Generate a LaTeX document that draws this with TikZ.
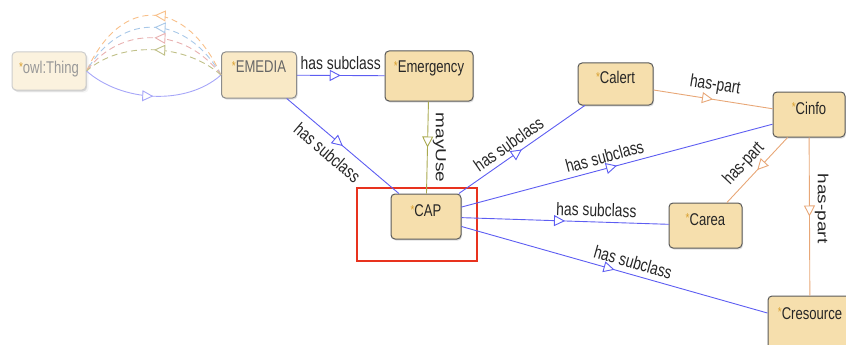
\documentclass[tikz,border=0pt]{standalone}
\usepackage{fontspec}
\usepackage{graphicx}
\setmainfont[FakeStretch=0.77]{Liberation Sans}
\newfontfamily\vertfont{Liberation Sans}
\usepackage{xcolor}
\usepackage{tikz}
\usetikzlibrary{arrows.meta, decorations.markings, shadows}

\definecolor{clsfill}{HTML}{F6DFAD}
\definecolor{clsdraw}{HTML}{5A5A5A}
\definecolor{subcl}{HTML}{5D5DF2}
\definecolor{haspart}{HTML}{E8A777}
\definecolor{mayuse}{HTML}{A9A94F}
\definecolor{starcol}{HTML}{D9A030}
\definecolor{capred}{HTML}{E8321E}
\definecolor{dorange}{HTML}{F8C08A}
\definecolor{dblue}{HTML}{A8C8E8}
\definecolor{dpink}{HTML}{E8B0B0}
\definecolor{dolive}{HTML}{C0C088}

\newcommand{\cls}[1]{\textcolor{starcol}{\raisebox{2.5pt}{\fontsize{13}{13}\selectfont *}}#1}
\newcommand{\vlbl}[1]{\scalebox{1}[0.77]{\vertfont\fontsize{19}{19}\selectfont #1}}

\tikzstyle{classbox} = [rectangle, rounded corners=4pt, draw=clsdraw, fill=clsfill, line width=1pt, text height=12pt, text depth=12pt, font=\fontsize{17}{17}\selectfont, text=black!85, drop shadow={shadow xshift=1pt, shadow yshift=-1.5pt, opacity=0.25}]
\tikzstyle{semi} = [classbox, draw=black!45, fill=clsfill!70, text=black!60]
\tikzstyle{faded} = [classbox, draw=black!20, fill=clsfill!40, text=black!40, drop shadow={opacity=0.08}]
\tikzstyle{midtri} = [decoration={markings, mark=at position 0.5 with {\arrow{Triangle[length=11pt, width=11pt, fill=white]}}}, postaction={decorate}]
\tikzstyle{sub} = [color=subcl, line width=0.9pt, midtri]
\tikzstyle{part} = [color=haspart, line width=0.9pt, midtri]
\tikzstyle{uses} = [color=mayuse, line width=0.9pt, midtri]
\tikzstyle{thingsub} = [color=subcl!55, line width=0.9pt, midtri]
\tikzstyle{owlcurve} = [line width=0.9pt, dash pattern=on 6pt off 4pt, midtri]
\tikzstyle{lbl} = [font=\fontsize{18}{18}\selectfont, text=black!85, inner sep=5pt]
\tikzstyle{vert} = [text=black!85, rotate=-90, anchor=south, inner sep=5pt]
\tikzstyle{redframe} = [rectangle, draw=capred, line width=1.4pt, minimum width=120pt, minimum height=73pt]

\begin{document}
\begin{tikzpicture}[x=1pt, y=-1pt]
\useasboundingbox (0,0) rectangle (846,345);

\node (thing) [faded, minimum width=74pt, minimum height=38pt, text depth=6pt] at (49,71) {\cls{owl:Thing}};
\node (emedia) [semi, minimum width=75pt, minimum height=46pt, text depth=16pt] at (259,75) {\cls{EMEDIA}};
\node (emergency) [classbox, minimum width=88pt, minimum height=50pt, text depth=18pt] at (429,76) {\cls{Emergency}};
\node (cap) [classbox, minimum width=70pt, minimum height=45pt] at (426,216.5) {\cls{CAP}};
\node (capframe) [redframe] at (417,224.5) {};
\node (calert) [classbox, minimum width=75pt, minimum height=42pt] at (615.5,84) {\cls{Calert}};
\node (cinfo) [classbox, minimum width=72pt, minimum height=45pt, text depth=13pt] at (809,114.5) {\cls{Cinfo}};
\node (carea) [classbox, minimum width=73pt, minimum height=45pt, text depth=13pt] at (705.5,225.5) {\cls{Carea}};
\node (cresource) [classbox, minimum width=84pt, minimum height=58pt, text depth=24pt] at (810,325) {\cls{Cresource}};

\draw [thingsub] (thing.east) .. controls +(35,31) and +(-35,31) .. (emedia.west);
\draw [owlcurve, color=dorange] (emedia.west) .. controls +(-35,-77) and +(35,-77) .. (thing.east);
\draw [owlcurve, color=dblue] (emedia.west) .. controls +(-35,-61) and +(35,-61) .. (thing.east);
\draw [owlcurve, color=dpink] (emedia.west) .. controls +(-35,-47) and +(35,-47) .. (thing.east);
\draw [owlcurve, color=dolive] (emedia.west) .. controls +(-35,-31) and +(35,-31) .. (thing.east);

\draw [sub] (emedia) -- node[lbl, above] {has subclass} (emergency);
\draw [sub] (emedia) -- node[lbl, sloped, below, pos=0.45, inner sep=8pt] {has subclass} (cap);
\draw [uses] (emergency) -- node[vert] {\vlbl{mayUse}} (cap);
\draw [sub] (cap) -- node[lbl, sloped, above, pos=0.45] {has subclass} (calert);
\draw [sub] (cap) -- node[lbl, sloped, above, pos=0.47] {has subclass} (cinfo);
\draw [sub] (cap) -- node[lbl, sloped, above, pos=0.65] {has subclass} (carea);
\draw [sub] (cap) -- node[lbl, sloped, above, pos=0.55] {has subclass} (cresource);
\draw [part] (calert) -- node[lbl, sloped, above] {has-part} (cinfo);
\draw [part] (cinfo) -- node[lbl, sloped, above, pos=0.55] {has-part} (carea);
\draw [part] (cinfo) -- node[vert, pos=0.45] {\vlbl{has-part}} (cresource);

\end{tikzpicture}
\end{document}
